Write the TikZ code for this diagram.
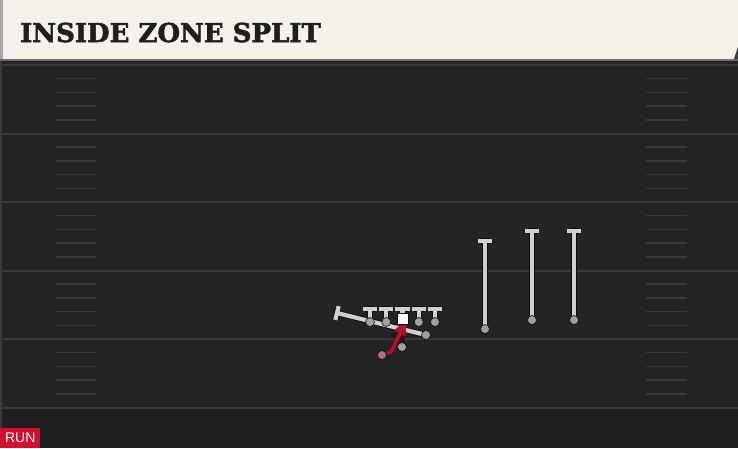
\documentclass[tikz,border=0pt]{standalone}
\usepackage{fontspec}
\newfontfamily\titlefont{DejaVu Serif}[BoldFeatures={FakeBold=2}]
\newfontfamily\tagfont{Liberation Sans}
\usetikzlibrary{arrows,calc,backgrounds}

\definecolor{cream}{HTML}{F4F1EA}
\definecolor{titleink}{HTML}{1E1E1E}
\definecolor{turf}{HTML}{242424}
\definecolor{turfdark}{HTML}{1F1F1F}
\definecolor{chalk}{HTML}{3A3A3A}
\definecolor{routegray}{HTML}{D0D0D0}
\definecolor{outline}{HTML}{0E0E0E}
\definecolor{dotgray}{HTML}{A0A0A0}
\definecolor{runline}{HTML}{B3122D}
\definecolor{runred}{HTML}{D0102E}

\begin{document}
\begin{tikzpicture}[x=1pt,y=-1pt,>=stealth',node distance=16.25pt,
  player/.style={fill=dotgray, draw=outline, circle, inner sep=0pt, minimum size=9pt, line width=0.6pt},
  route/.style={draw=routegray, line width=4.2pt, line cap=rect,
    preaction={draw=outline, line width=6pt}},
  run/.style={draw=runline, line width=3.6pt, ->,
    preaction={draw=outline!80!runline, line width=4.6pt, shorten >=4pt}}]
  \useasboundingbox (0,0) rectangle (738,448);

  % field
  \begin{scope}[on background layer]
  \fill[turf] (0,0) rectangle (738,448);
  \fill[turfdark] (0,408) rectangle (738,448);
  \fill[chalk] (0,60) rectangle (2,448);
  \foreach \k in {0,...,5}
    \draw[chalk, line width=2pt] (0,{65+68.5*\k}) -- (738,{65+68.5*\k});
  \foreach \k in {0,...,4}
    \foreach \j in {1,...,4} {
      \draw[chalk, line width=1.5pt] (56,{65+68.5*\k+13.7*\j}) -- (96,{65+68.5*\k+13.7*\j});
      \draw[chalk, line width=1.5pt] (646,{65+68.5*\k+13.7*\j}) -- (687,{65+68.5*\k+13.7*\j});
    }

  % header
  \fill[black!60] (0,0) rectangle (738,61);
  \fill[cream] (3,0) -- (738,0) -- (738,47) -- (734,59) -- (3,59) -- cycle;
  \fill[black!75] (738,47) -- (738,59) -- (734,59) -- cycle;
  \fill[gray!70] (0,0) rectangle (3,59);
  \end{scope}
  \node (title) [anchor=base west, inner sep=0pt, text=titleink,
    font=\titlefont\bfseries\fontsize{26}{26}\selectfont] at (20,42) {INSIDE ZONE SPLIT};

  % line
  \coordinate (lt) at (370,309);
  \node (lg) [coordinate, right of=lt] {};
  \node (c) [coordinate, right of=lg] {};
  \node (rg) [coordinate, right of=c] {};
  \node (rt) [coordinate, right of=rg] {};
  \node (lt dot) [player] at ($(lt)+(0,13)$) {};
  \node (lg dot) [player] at ($(lg)+(0,13)$) {};
  \node (c dot) [fill=white, draw=outline, line width=0.6pt, minimum size=11pt, inner sep=0pt] at ($(c)+(0,10)$) {};
  \node (rg dot) [player] at ($(rg)+(0,13)$) {};
  \node (rt dot) [player] at ($(rt)+(0,13)$) {};

  % split block across the formation
  \node (te) [player] at (426,335) {};
  \coordinate (te end) at (337,313);

  % receivers
  \node (x) [player] at (485,329) {};
  \node (y) [player] at (532,320) {};
  \node (z) [player] at (574,320) {};
  \coordinate (x end) at (485,241);
  \coordinate (y end) at (532,231);
  \coordinate (z end) at (574,231);

  % backfield
  \node (qb) [player] at (402,347) {};
  \node (rb) [player, fill=dotgray!70!runline] at (382,355) {};
  \coordinate (rb turn) at (391,352);
  \coordinate (rb hole) at (406,321);

  % routes under the players
  \begin{scope}[on background layer]
  \foreach \p in {lt,lg,c,rg,rt}
    \draw[route] (\p\space dot) -- (\p) ([xshift=-5pt]\p) -- ([xshift=5pt]\p);
  \draw[route] (te) -- (te end)
    ($(te end)!5pt!90:(te)$) -- ($(te end)!5pt!-90:(te)$);
  \foreach \p in {x,y,z}
    \draw[route] (\p) -- (\p\space end)
      ([xshift=-4.5pt]\p\space end) -- ([xshift=4.5pt]\p\space end);
  \draw[run] (rb) -- (rb turn) -- (rb hole);
  \end{scope}

  % tag
  \node (tag) [fill=runred, text=white, anchor=south west, inner sep=0pt,
    minimum width=40pt, minimum height=20pt,
    font=\tagfont\fontsize{14}{14}\selectfont] at (0,448) {RUN};
\end{tikzpicture}
\end{document}
